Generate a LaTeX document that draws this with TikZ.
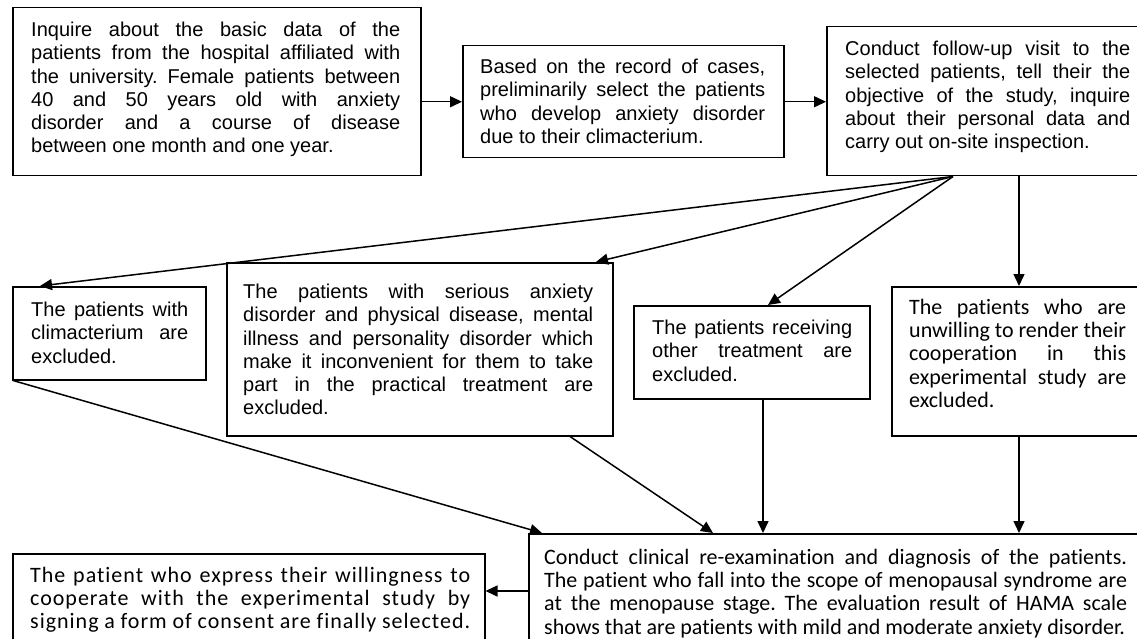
\documentclass[tikz,border=0pt]{standalone}
\usepackage{fontspec}
\setmainfont{Liberation Sans}
\newfontfamily\calfont[Ligatures=NoCommon]{Carlito}
\newfontfamily\calfontw[Ligatures=NoCommon,LetterSpace=4.5]{Carlito}
\usetikzlibrary{arrows.meta,calc}
\tikzset{
  box/.style={draw, line width=1.5pt, inner sep=0pt, anchor=north west},
  txt/.style={anchor=north west, inner sep=0pt, align=justify, font=\frenchspacing\fontsize{20}{23.2}\selectfont},
  ctxt/.style={anchor=north west, inner sep=0pt, align=justify, font=\frenchspacing\calfont\fontsize{22}{23.2}\selectfont},
  wtxt/.style={anchor=north west, inner sep=0pt, align=justify, font=\frenchspacing\calfontw\fontsize{22}{23.2}\selectfont},
  arr/.style={line width=1.5pt, -{Triangle[length=12pt,width=11pt]}}
}
\begin{document}
\begin{tikzpicture}[x=1pt,y=-1pt]
\useasboundingbox (0,0) rectangle (1137,639);
\clip (0,0) rectangle (1137,639);
% boxes
\node[box, minimum width=408, minimum height=168] (b1) at (12,7) {};
\node[txt, text width=369] (t1) at (31,22) {Inquire about the basic data of the\linebreak patients from the hospital affiliated with\linebreak the university. Female patients between\linebreak 40 and 50 years old with anxiety\linebreak disorder and a course of disease\linebreak between one month and one year.};
\node[box, minimum width=321, minimum height=112] (b2) at (462,45) {};
\node[txt, text width=285] (t2) at (480,59) {Based on the record of cases,\linebreak preliminarily select the patients\linebreak who develop anxiety disorder\linebreak due to their climacterium.};
\node[box, minimum width=400, minimum height=149] (b3) at (826,26) {};
\node[txt, text width=285] (t3) at (845,41) {Conduct follow-up visit to the\linebreak selected patients, tell their the\linebreak objective of the study, inquire\linebreak about their personal data and\linebreak carry out on-site inspection.};
\node[box, minimum width=193, minimum height=93] (b4) at (12,286) {};
\node[txt, text width=157] (t4) at (31,302) {The patients with\linebreak climacterium are\linebreak excluded.};
\node[box, minimum width=386, minimum height=173] (b5) at (226,262) {};
\node[txt, text width=350] (t5) at (243,284) {The patients with serious anxiety\linebreak disorder and physical disease, mental\linebreak illness and personality disorder which\linebreak make it inconvenient for them to take\linebreak part in the practical treatment are\linebreak excluded.};
\node[box, minimum width=236, minimum height=93] (b6) at (633,305) {};
\node[txt, text width=200] (t6) at (652,320) {The patients receiving\linebreak other treatment are\linebreak excluded.};
\node[box, minimum width=300, minimum height=149] (b7) at (891,286) {};
\node[ctxt, text width=217] (t7) at (909,299) {The patients who are\linebreak unwilling to render their\linebreak cooperation in this\linebreak experimental study are\linebreak excluded.};
\node[box, minimum width=700, minimum height=150] (b8) at (528,533) {};
\node[ctxt, text width=583] (t8) at (544,549) {Conduct clinical re-examination and diagnosis of the patients.\linebreak The patient who fall into the scope of menopausal syndrome are\linebreak at the menopause stage. The evaluation result of HAMA scale\linebreak shows that are patients with mild and moderate anxiety disorder.};
\node[box, minimum width=472, minimum height=120] (b9) at (12,553) {};
\node[wtxt, text width=440] (t9) at (30,567) {The patient who express their willingness to\linebreak cooperate with the experimental study by\linebreak signing a form of consent are finally selected.};
% connectors
\draw[arr] (b1.east |- b2.west) -- (b2.west);
\draw[arr] (b2.east) -- (b3.west |- b2.east);
\coordinate (fan) at ($(b3.south west)+(127,0)$);
\draw[arr] (fan) -- ($(b4.north west)+(28,0)$);
\draw[arr] (fan) -- ($(b5.north west)+(370,0)$);
\draw[arr] (fan) -- ($(b6.north west)+(135,0)$);
\draw[arr] ($(b3.south west)+(193,0)$) -- ($(b7.north west)+(128,0)$);
\draw[arr] ($(b4.south west)+(1,0)$) -- ($(b8.north west)+(14,0)$);
\draw[arr] ($(b5.south west)+(344,0)$) -- ($(b8.north west)+(185,0)$);
\draw[arr] ($(b6.south west)+(130,0)$) -- ($(b8.north west)+(235,0)$);
\draw[arr] ($(b7.south west)+(128,0)$) -- ($(b8.north west)+(491,0)$);
\draw[arr] ($(b8.north west)+(0,58)$) -- ($(b9.north east)+(0,38)$);
\end{tikzpicture}
\end{document}
